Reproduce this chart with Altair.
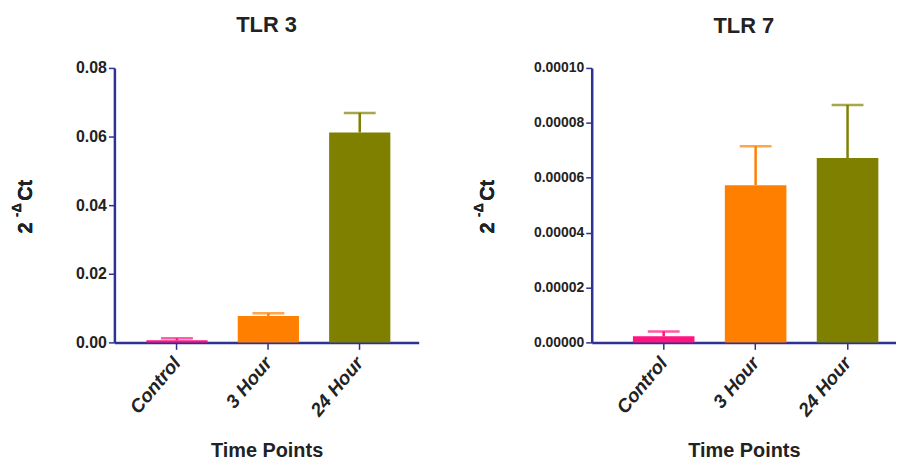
import altair as alt
import pandas as pd

categories = ["Control", "3 Hour", "24 Hour"]
colors = ["#FF1480", "#FF8000", "#808000"]

tlr3_mean = [0.0006, 0.0077, 0.0612]
tlr3_upper = [0.0012, 0.0085, 0.0669]
tlr3_ticks = [0.0, 0.02, 0.04, 0.06, 0.08]

tlr7_mean = [0.0000022, 0.0000573, 0.0000672]
tlr7_upper = [0.0000040, 0.0000715, 0.0000865]
tlr7_ticks = [0.0, 0.00002, 0.00004, 0.00006, 0.00008, 0.0001]

NAVY = "#2E3192"
FONT = "Liberation Sans"
TXT = "#222222"


def panel(title, means, uppers, ticks, fmt, w, title_x, pad_outer, align, label_size):
    df = pd.DataFrame({"cat": categories, "mean": means, "upper": uppers})
    xenc = alt.X("cat:N", sort=categories, title="Time Points",
                 scale=alt.Scale(paddingInner=0.33, paddingOuter=pad_outer, align=align),
                 axis=alt.Axis(labelAngle=-50, labelAlign="right", labelBaseline="middle",
                               labelFont=FONT, labelFontStyle="italic",
                               labelFontWeight="bold", labelFontSize=19, labelColor=TXT,
                               labelPadding=10, tickSize=7,
                               titleFont=FONT, titleFontSize=20, titleFontWeight="bold",
                               titleColor=TXT, titlePadding=21))
    yscale = alt.Scale(domain=[0, ticks[-1]], nice=False)
    color = alt.Color("cat:N", scale=alt.Scale(domain=categories, range=colors), legend=None)
    yaxis = alt.Axis(format=fmt, values=ticks, labelOverlap=False,
                     labelFont=FONT, labelFontWeight="bold", labelFontSize=label_size, labelColor=TXT,
                     tickSize=6, labelPadding=2, grid=False, title=None)
    base = alt.Chart(df)
    bars = base.mark_bar().encode(x=xenc, y=alt.Y("mean:Q", scale=yscale, axis=yaxis), color=color)
    err = base.mark_rule(strokeWidth=2.5).encode(x=alt.X("cat:N", sort=categories), y="mean:Q", y2="upper:Q", color=color)
    cap = base.mark_tick(thickness=2.5, size=32, orient="horizontal").encode(
        x=alt.X("cat:N", sort=categories), y="upper:Q", color=color)
    t2 = base.mark_text(text="2", angle=270, font=FONT, fontWeight="bold", fontSize=20,
                        color=TXT, align="center", baseline="middle").encode(
        x=alt.value(title_x), y=alt.value(161))
    tsup = base.mark_text(text="-Δ", angle=270, font=FONT, fontWeight="bold", fontSize=13,
                          color=TXT, align="center", baseline="middle").encode(
        x=alt.value(title_x - 9), y=alt.value(143))
    tct = base.mark_text(text="Ct", angle=270, font=FONT, fontWeight="bold", fontSize=20,
                         color=TXT, align="center", baseline="middle").encode(
        x=alt.value(title_x), y=alt.value(123))
    return alt.layer(bars, err, cap, t2, tsup, tct).properties(
        width=w, height=276,
        title=alt.TitleParams(title, font=FONT, fontSize=22, fontWeight="bold", color=TXT, offset=23))


left = panel("TLR 3", tlr3_mean, tlr3_upper, tlr3_ticks, ".2f", 306, -89, 0.33, 0.53, 16)
right = panel("TLR 7", tlr7_mean, tlr7_upper, tlr7_ticks, ".5f", 306, -104, 0.32, 0.70, 14)

chart = alt.hconcat(left, right, spacing=55).resolve_scale(color="independent").configure(
    padding={"left": 3, "top": 5, "right": 0, "bottom": 0}
).configure_view(stroke=None).configure_axis(
    domainColor=NAVY, domainWidth=2.5, tickColor=NAVY, tickWidth=1.5
)

chart.save("out.html", embed_options={"renderer": "svg", "actions": False})
